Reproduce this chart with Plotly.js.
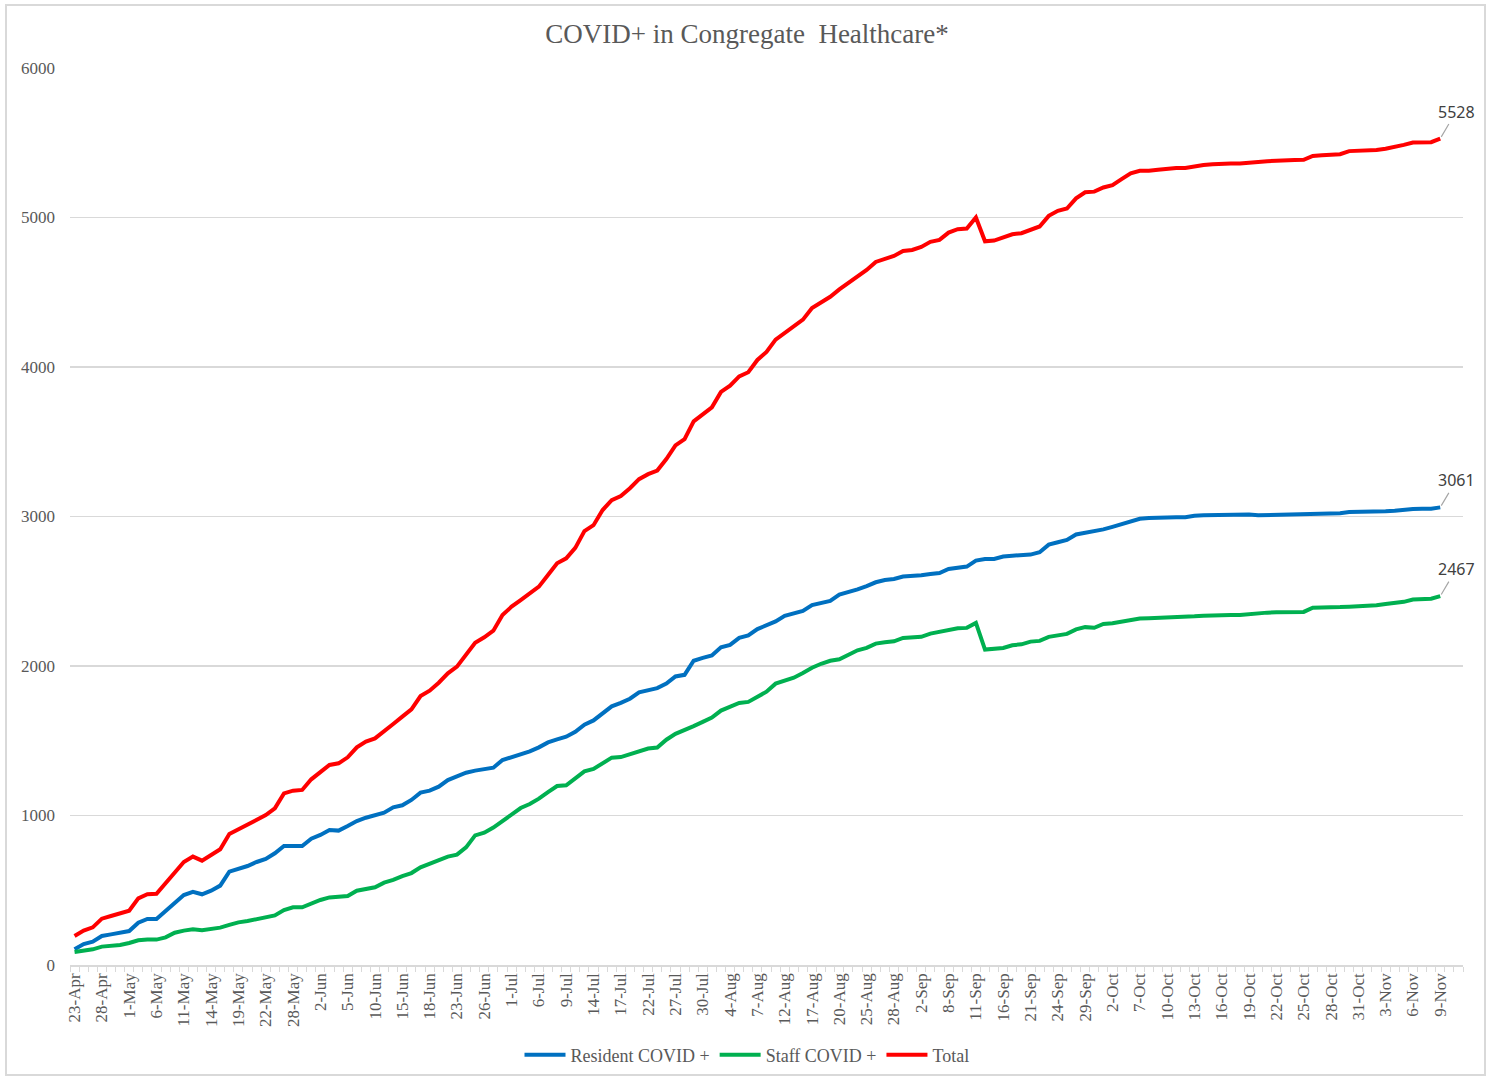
<!DOCTYPE html>
<html>
<head>
<meta charset="utf-8">
<script src="https://cdn.plot.ly/plotly-3.0.1.min.js"></script>
<style>
  html, body { margin: 0; padding: 0; background: #ffffff; }
  #wrap { position: relative; width: 1494px; height: 1078px; }
  #chart { position: absolute; left: 0; top: 0; width: 1494px; height: 1078px; }
  #frame { position: absolute; left: 5px; top: 4px; width: 1477px; height: 1068px; border: 2px solid #d9d9d9; pointer-events: none; }
</style>
</head>
<body>
<div id="wrap"><div id="chart"></div><div id="frame"></div></div>
<script>
// Categories (report dates)
const dates = [
"23-Apr","24-Apr","27-Apr","28-Apr","29-Apr","30-Apr","1-May","4-May","5-May","6-May",
"7-May","8-May","11-May","12-May","13-May","14-May","15-May","18-May","19-May","20-May",
"21-May","22-May","26-May","27-May","28-May","29-May","1-Jun","2-Jun","3-Jun","4-Jun",
"5-Jun","8-Jun","9-Jun","10-Jun","11-Jun","12-Jun","15-Jun","16-Jun","17-Jun","18-Jun",
"19-Jun","22-Jun","23-Jun","24-Jun","25-Jun","26-Jun","29-Jun","30-Jun","1-Jul","2-Jul",
"3-Jul","6-Jul","7-Jul","8-Jul","9-Jul","10-Jul","13-Jul","14-Jul","15-Jul","16-Jul",
"17-Jul","20-Jul","21-Jul","22-Jul","23-Jul","24-Jul","27-Jul","28-Jul","29-Jul","30-Jul",
"31-Jul","3-Aug","4-Aug","5-Aug","6-Aug","7-Aug","10-Aug","11-Aug","12-Aug","13-Aug",
"14-Aug","17-Aug","18-Aug","19-Aug","20-Aug","21-Aug","24-Aug","25-Aug","26-Aug","27-Aug",
"28-Aug","31-Aug","1-Sep","2-Sep","3-Sep","4-Sep","8-Sep","9-Sep","10-Sep","11-Sep",
"14-Sep","15-Sep","16-Sep","17-Sep","18-Sep","21-Sep","22-Sep","23-Sep","24-Sep","25-Sep",
"28-Sep","29-Sep","30-Sep","1-Oct","2-Oct","5-Oct","6-Oct","7-Oct","8-Oct","9-Oct",
"10-Oct","11-Oct","12-Oct","13-Oct","14-Oct","15-Oct","16-Oct","17-Oct","18-Oct","19-Oct",
"20-Oct","21-Oct","22-Oct","23-Oct","24-Oct","25-Oct","26-Oct","27-Oct","28-Oct","29-Oct",
"30-Oct","31-Oct","1-Nov","2-Nov","3-Nov","4-Nov","5-Nov","6-Nov","7-Nov","8-Nov",
"9-Nov","10-Nov","11-Nov"
];

// Tick labels shown on the x axis
const tickLabels = [
"23-Apr","28-Apr","1-May","6-May","11-May","14-May","19-May","22-May","28-May","2-Jun",
"5-Jun","10-Jun","15-Jun","18-Jun","23-Jun","26-Jun","1-Jul","6-Jul","9-Jul","14-Jul",
"17-Jul","22-Jul","27-Jul","30-Jul","4-Aug","7-Aug","12-Aug","17-Aug","20-Aug","25-Aug",
"28-Aug","2-Sep","8-Sep","11-Sep","16-Sep","21-Sep","24-Sep","29-Sep","2-Oct","7-Oct",
"10-Oct","13-Oct","16-Oct","19-Oct","22-Oct","25-Oct","28-Oct","31-Oct","3-Nov","6-Nov",
"9-Nov"
];

const resident = [
105,140,156,194,205,216,227,283,308,308,
363,413,468,490,473,497,531,624,640,662,
689,709,747,796,796,796,845,870,903,899,
930,963,985,1001,1019,1055,1068,1104,1153,1166,
1193,1237,1264,1286,1300,1309,1320,1371,1389,1407,
1429,1456,1489,1509,1527,1560,1608,1636,1687,1730,
1753,1781,1824,1835,1852,1882,1930,1941,2035,2054,
2070,2125,2141,2188,2204,2247,2275,2298,2336,2352,
2369,2407,2418,2435,2477,2492,2513,2535,2560,2575,
2582,2598,2600,2607,2615,2622,2649,2660,2665,2705,
2716,2716,2732,2738,2743,2745,2761,2812,2828,2843,
2880,2891,2903,2914,2931,2949,2972,2985,2990,2993,
2995,2995,2995,3005,3008,3010,3010,3010,3010,3013,
3008,3010,3012,3012,3012,3012,3016,3020,3022,3022,
3030,3030,3030,3032,3035,3038,3045,3050,3052,3052,
3061
];

const staff = [
87,94,105,123,127,134,147,165,170,170,
185,216,230,239,232,241,250,268,285,294,
308,321,332,368,386,386,413,435,452,457,
462,497,508,520,551,569,595,615,653,676,
702,725,738,787,867,885,919,965,1010,1050,
1077,1113,1157,1197,1202,1245,1295,1311,1349,1387,
1391,1412,1434,1448,1455,1507,1546,1570,1598,1626,
1655,1702,1725,1753,1760,1796,1828,1882,1899,1922,
1953,1988,2015,2035,2045,2072,2105,2121,2150,2159,
2165,2188,2190,2195,2217,2228,2239,2253,2255,2288,
2110,2116,2121,2139,2145,2163,2168,2195,2206,2215,
2245,2260,2256,2281,2286,2297,2306,2318,2320,2322,
2325,2325,2325,2332,2336,2339,2341,2341,2341,2348,
2353,2357,2360,2362,2362,2362,2390,2390,2392,2394,
2397,2399,2401,2406,2415,2422,2429,2445,2450,2450,
2467
];

const total = [
194,230,252,310,328,346,363,446,473,477,
546,618,689,725,698,736,774,876,907,936,
974,1003,1048,1148,1166,1171,1242,1288,1338,1349,
1389,1456,1494,1516,1561,1612,1661,1710,1799,1835,
1888,1951,1996,2080,2156,2192,2236,2341,2397,2441,
2482,2531,2609,2687,2720,2790,2902,2942,3043,3109,
3137,3189,3250,3283,3307,3384,3476,3518,3636,3687,
3730,3833,3875,3937,3965,4047,4101,4183,4230,4277,
4317,4395,4430,4470,4519,4560,4602,4649,4703,4725,
4743,4776,4783,4803,4837,4850,4899,4922,4926,5000,
4841,4846,4864,4888,4895,4917,4940,5011,5045,5060,
5128,5169,5173,5201,5217,5257,5296,5312,5312,5319,
5326,5331,5331,5342,5351,5356,5361,5361,5361,5368,
5372,5377,5379,5384,5384,5386,5412,5416,5418,5423,
5444,5446,5446,5451,5460,5470,5486,5502,5504,5504,
5528
];

const seriesNames = ["Resident COVID +", "Staff COVID +", "Total"];
const seriesColors = ["#0070C0", "#00B050", "#FF0000"];
const seriesData = [resident, staff, total];

const serif = "'Liberation Serif', 'Times New Roman', serif";
const gray = "#595959";

const traces = seriesData.map((vals, k) => ({
  type: "scatter",
  mode: "lines",
  name: seriesNames[k],
  x: dates.slice(0, vals.length),
  y: vals,
  line: { color: seriesColors[k], width: 4 },
  hoverinfo: "x+y+name"
}));

const annotations = seriesData.map((vals, k) => ({
  x: dates[vals.length - 1],
  y: vals[vals.length - 1],
  xref: "x", yref: "y",
  text: String(vals[vals.length - 1]),
  showarrow: true,
  arrowhead: 0,
  arrowwidth: 1.2,
  arrowcolor: "#a6a6a6",
  ax: 16, ay: -27,
  standoff: 2,
  font: { family: "'Noto Sans', 'Liberation Sans', sans-serif", size: 16, color: "#404040" }
}));

const layout = {
  width: 1494,
  height: 1078,
  margin: { l: 70, r: 31, t: 68, b: 113 },
  paper_bgcolor: "#ffffff",
  plot_bgcolor: "#ffffff",
  title: {
    text: "COVID+ in Congregate\u00a0 Healthcare*",
    font: { family: serif, size: 27, color: gray },
    x: 0.5, xref: "container", xanchor: "center",
    y: 1 - 34 / 1078, yref: "container", yanchor: "middle"
  },
  xaxis: {
    type: "category",
    categoryorder: "array",
    categoryarray: dates,
    range: [-0.5, dates.length - 0.5],
    tickmode: "array",
    tickvals: dates,
    ticktext: dates.map(d => tickLabels.includes(d) ? d : ""),
    tickson: "boundaries",
    ticks: "outside",
    ticklen: 5,
    tickcolor: "#d9d9d9",
    tickwidth: 1,
    tickangle: -90,
    tickfont: { family: serif, size: 17, color: gray },
    showgrid: false,
    showline: true,
    linecolor: "#d9d9d9",
    linewidth: 1.5,
    zeroline: false,
    fixedrange: true
  },
  yaxis: {
    range: [0, 6000],
    dtick: 1000,
    tick0: 0,
    tickformat: "d",
    showgrid: true,
    gridcolor: "#d9d9d9",
    gridwidth: 1.3,
    zeroline: false,
    showline: false,
    ticks: "",
    ticklabelstandoff: 14,
    tickfont: { family: serif, size: 17, color: gray },
    fixedrange: true
  },
  showlegend: true,
  legend: {
    orientation: "h",
    x: 0.5, xanchor: "center", xref: "container",
    y: 1 - 1055 / 1078, yanchor: "middle", yref: "container",
    font: { family: serif, size: 18, color: gray },
    itemwidth: 41,
    tracegroupgap: 0,
    bgcolor: "rgba(0,0,0,0)"
  },
  annotations: annotations
};

Plotly.newPlot("chart", traces, layout, { displayModeBar: false, staticPlot: true });
</script>
</body>
</html>
